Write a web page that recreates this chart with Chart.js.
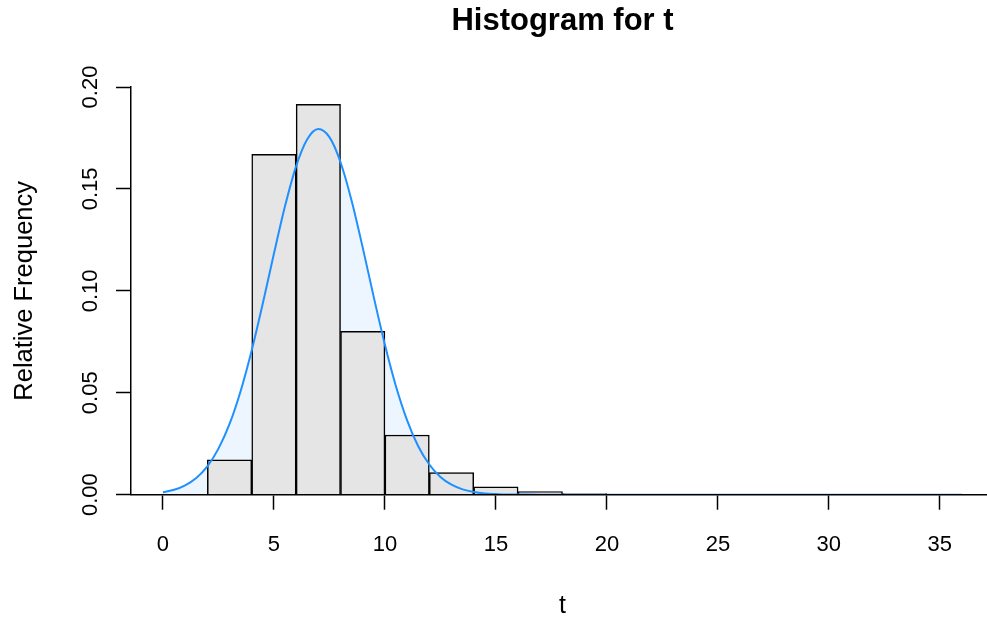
<!DOCTYPE html>
<html>
<head>
<meta charset="utf-8">
<script src="https://cdn.jsdelivr.net/npm/chart.js@4.4.1/dist/chart.umd.min.js"></script>
<style>
  html, body { margin: 0; padding: 0; background: #ffffff; overflow: hidden; }
  #wrap { width: 987px; height: 619px; overflow: hidden; }
</style>
</head>
<body>
<div id="wrap"><canvas id="c" width="994" height="619"></canvas></div>
<script>
// ---- data ----
const binMids = [3, 5, 7, 9, 11, 13, 15, 17, 19, 21, 23, 25, 27, 29, 31, 33, 35];
const relFreq = [0.0171, 0.1670, 0.1915, 0.0801, 0.0293, 0.0108, 0.0039, 0.0015, 0.0005, 0.0002, 0, 0, 0, 0, 0, 0, 0];

const curveX = [0, 0.5, 1, 1.5, 2, 2.5, 3, 3.5, 4, 4.5, 5, 5.5, 6, 6.5, 7, 7.5, 8, 8.5, 9, 9.5,
                10, 10.5, 11, 11.5, 12, 12.5, 13, 13.5, 14, 14.5, 15, 15.5, 16,
                17, 18, 19, 20, 22, 24, 26, 28, 30, 32, 34, 36];
const curveY = [0.0012, 0.0024, 0.0046, 0.0082, 0.0139, 0.0226, 0.0347, 0.0509, 0.0709, 0.0939,
                0.1183, 0.1416, 0.1612, 0.1744, 0.1794, 0.1754, 0.1631, 0.1442, 0.1212, 0.0968,
                0.0736, 0.0531, 0.0365, 0.0238, 0.0148, 0.0087, 0.0049, 0.0026, 0.0013, 0.0006,
                0.0003, 0.0001, 0.0001,
                0, 0, 0, 0, 0, 0, 0, 0, 0, 0, 0, 0];

const xTicks = [0, 5, 10, 15, 20, 25, 30, 35];
const yTicks = [0, 0.05, 0.10, 0.15, 0.20];
const yTickLabels = ['0.00', '0.05', '0.10', '0.15', '0.20'];

const titleText = 'Histogram for t';
const xTitle = 't';
const yTitle = 'Relative Frequency';

// ---- build chart ----
const FONT = '"Liberation Sans", Arial, Helvetica, sans-serif';
const barPts = binMids.map((m, i) => ({ x: m, y: relFreq[i] }));
const curvePts = curveX.map((x, i) => ({ x: x, y: curveY[i] }));

const rotatedYTicks = {
  id: 'rotatedYTicks',
  afterDraw(chart) {
    const ys = chart.scales.y;
    const ctx = chart.ctx;
    ctx.save();
    ctx.fillStyle = '#000';
    ctx.font = '22px ' + FONT;
    ctx.textAlign = 'center';
    ctx.textBaseline = 'alphabetic';
    yTicks.forEach((v, i) => {
      const py = ys.getPixelForValue(v);
      ctx.save();
      ctx.translate(96.5, py);
      ctx.rotate(-Math.PI / 2);
      ctx.fillText(yTickLabels[i], 0, 0);
      ctx.restore();
    });
    ctx.restore();
  }
};

new Chart(document.getElementById('c'), {
  type: 'bar',
  data: {
    datasets: [
      {
        type: 'line',
        label: 'fill',
        data: curvePts,
        borderWidth: 0,
        borderColor: 'rgba(0,0,0,0)',
        backgroundColor: '#EDF5FE',
        fill: 'origin',
        pointRadius: 0,
        cubicInterpolationMode: 'monotone',
        order: 3
      },
      {
        type: 'bar',
        label: 'hist',
        data: barPts,
        backgroundColor: '#E5E5E5',
        borderColor: '#000000',
        borderWidth: 1.5,
        barPercentage: 1,
        categoryPercentage: 1,
        order: 2
      },
      {
        type: 'line',
        label: 'density',
        data: curvePts,
        borderColor: '#1E90FF',
        borderWidth: 2,
        fill: false,
        pointRadius: 0,
        cubicInterpolationMode: 'monotone',
        order: 1
      }
    ]
  },
  options: {
    responsive: false,
    animation: false,
    devicePixelRatio: 1,
    layout: { padding: 0 },
    plugins: {
      legend: { display: false },
      tooltip: { enabled: false },
      title: {
        display: true,
        text: titleText,
        fullSize: false,
        color: '#000',
        font: { family: FONT, size: 31, weight: 'bold', lineHeight: 1.2 },
        padding: { top: 3, bottom: 46.8 }
      }
    },
    scales: {
      x: {
        type: 'linear',
        position: 'bottom',
        min: -1.44,
        max: 37.44,
        offset: false,
        afterBuildTicks: (s) => { s.ticks = xTicks.map(v => ({ value: v })); },
        afterFit: (s) => { s.height = 124.3; },
        grid: { display: true, offset: false, drawOnChartArea: false, drawTicks: true, tickLength: 15, tickColor: '#000', tickWidth: 1.5 },
        border: { display: true, color: '#000', width: 1.5, z: 1 },
        ticks: { color: '#000', font: { family: FONT, size: 22 }, padding: 22, maxRotation: 0, autoSkip: false,
                 callback: (v) => String(v) },
        title: { display: true, text: xTitle, color: '#000', font: { family: FONT, size: 25, lineHeight: 1.0 }, padding: { top: 0, bottom: 0 } }
      },
      y: {
        type: 'linear',
        position: 'left',
        min: 0,
        max: 0.2,
        afterBuildTicks: (s) => { s.ticks = yTicks.map(v => ({ value: v })); },
        afterFit: (s) => { s.width = 131; },
        grid: { display: true, drawOnChartArea: false, drawTicks: true, tickLength: 15, tickColor: '#000', tickWidth: 1.5 },
        border: { display: true, color: '#000', width: 1.5 },
        ticks: { display: false },
        title: { display: true, text: yTitle, color: '#000', font: { family: FONT, size: 25.5, lineHeight: 1.2 }, padding: { top: 9.5, bottom: 0 } }
      }
    }
  },
  plugins: [rotatedYTicks]
});
</script>
</body>
</html>
